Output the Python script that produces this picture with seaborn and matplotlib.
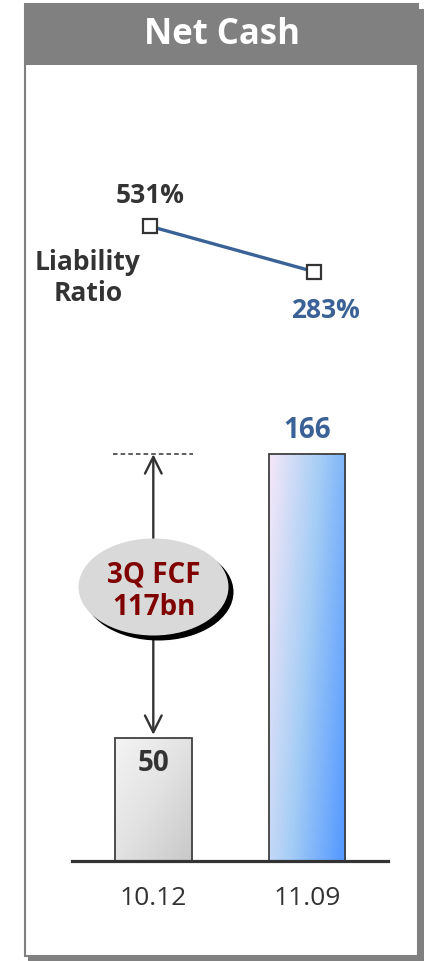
import numpy as np
import pandas as pd
import matplotlib
matplotlib.use("Agg")
import matplotlib.pyplot as plt
from matplotlib.patches import Rectangle, Ellipse
import seaborn as sns

# ---- data -------------------------------------------------------------
periods = ["10.12", "11.09"]
net_cash = [50, 166]            # KRW bn
liability_ratio = [531, 283]    # %
fcf_label = "3Q FCF\n117bn"

sns.set_theme(style="white")
plt.rcParams["font.family"] = ["Open Sans", "DejaVu Sans"]

W, H = 424, 962
fig = plt.figure(figsize=(W / 100, H / 100), dpi=100)
fig.patch.set_facecolor("white")


def fx(x):
    return x / W


def fy(y):
    return 1 - y / H


def frect(x0, y0, x1, y1, **kw):
    r = Rectangle((fx(x0), fy(y1)), fx(x1) - fx(x0), fy(y0) - fy(y1),
                  transform=fig.transFigure, **kw)
    fig.add_artist(r)
    return r


DARK = "#333333"
BLUE = "#3A6296"
GRAY = "#808080"

# ---- panel frame with drop shadow and header --------------------------
frect(28, 10, 424, 962, facecolor=GRAY, edgecolor="none", zorder=-20)
frect(25, 5, 418, 957, facecolor="white", edgecolor=GRAY, linewidth=1.5, zorder=-19)
frect(24, 4, 418, 66, facecolor=GRAY, edgecolor="none", zorder=-18)
fig.text(fx(222), fy(35), "Net Cash", color="white", fontsize=25,
         fontweight="bold", ha="center", va="center", zorder=10)

# ---- net cash bars ----------------------------------------------------
YTOP = 195.9
ax = fig.add_axes([fx(72), fy(862), (388 - 72) / W, (862 - 382) / H])
ax.patch.set_visible(False)
df = pd.DataFrame({"period": periods, "cash": net_cash})
sns.barplot(data=df, x="period", y="cash", ax=ax, width=0.498,
            color="white", edgecolor="#404040", linewidth=1.3,
            saturation=1, zorder=3)
ax.set_xlabel("")
ax.set_ylabel("")
ax.set_yticks([])
for s in ["left", "right", "top"]:
    ax.spines[s].set_visible(False)
ax.spines["bottom"].set_color(DARK)
ax.spines["bottom"].set_linewidth(2.3)
ax.spines["bottom"].set_zorder(6)
ax.tick_params(axis="x", length=0, pad=17, labelsize=19, labelcolor=DARK)


def gradient(c_tl, c_mid, c_br, wx, wy, n=200):
    u = np.linspace(0, 1, n)[None, :]
    v = np.linspace(0, 1, n)[:, None]
    t = np.clip(wx * u + wy * v, 0, 1)
    stops = np.array([c_tl, c_mid, c_br], dtype=float) / 255
    img = np.empty((n, n, 3))
    for k in range(3):
        img[..., k] = np.interp(t, [0, 0.5, 1], stops[:, k])
    return img


grads = [
    gradient((244, 244, 244), (226, 226, 226), (200, 200, 200), 0.5, 0.5),
    gradient((246, 232, 248), (165, 205, 245), (88, 155, 255), 0.75, 0.3),
]
for bar, img in zip(ax.patches, grads):
    x0, y0 = bar.get_x(), bar.get_y()
    bw, bh = bar.get_width(), bar.get_height()
    im = ax.imshow(img, extent=(x0, x0 + bw, y0, y0 + bh), aspect="auto",
                   origin="upper", zorder=2)
    im.set_clip_path(bar)
    bar.set_facecolor("none")
ax.set_xlim(-0.529, 1.527)
ax.set_ylim(0, YTOP)

# value labels
ax.annotate(f"{net_cash[0]}", (0, net_cash[0]), xytext=(0, -24),
            textcoords="offset pixels", ha="center", va="center",
            fontsize=20, fontweight="bold", color=DARK, zorder=7)
ax.annotate(f"{net_cash[1]}", (1, net_cash[1]), xytext=(0, 25),
            textcoords="offset pixels", ha="center", va="center",
            fontsize=20, fontweight="bold", color=BLUE, zorder=7)

# FCF bridge: dashed reference at the later level, double arrow down to earlier bar
ax.plot([-0.265, 0.258], [net_cash[1], net_cash[1]], color=DARK,
        linewidth=1.1, linestyle=(0, (3, 2)), zorder=4)
ax.annotate("", xy=(0, net_cash[1]), xytext=(0, net_cash[0] + 1.5),
            arrowprops=dict(arrowstyle="<->,head_length=1.0,head_width=0.5",
                            color=DARK, linewidth=1.7, shrinkA=0, shrinkB=0),
            zorder=4)

ecx, ecy, ew, eh = 153.5, 588, 150, 97
fig.add_artist(Ellipse((fx(ecx + 5), fy(ecy + 5)), ew / W, eh / H,
                       transform=fig.transFigure, facecolor="black",
                       edgecolor="none", zorder=8))
fig.add_artist(Ellipse((fx(ecx), fy(ecy)), ew / W, eh / H,
                       transform=fig.transFigure, facecolor="#D9D9D9",
                       edgecolor="none", zorder=9))
fig.text(fx(153.5), fy(591), fcf_label, color="#800000", fontsize=20,
         fontweight="bold", ha="center", va="center", linespacing=1.15,
         zorder=10)

# ---- liability ratio line ---------------------------------------------
lax = fig.add_axes([fx(72), fy(340), (388 - 72) / W, (340 - 150) / H])
lax.patch.set_visible(False)
ldf = pd.DataFrame({"pos": np.arange(len(periods)), "ratio": liability_ratio})
sns.lineplot(data=ldf, x="pos", y="ratio", ax=lax, color=BLUE,
             linewidth=2.4, marker="s", markersize=10.5,
             markerfacecolor="white", markeredgecolor=DARK,
             markeredgewidth=1.6)
lax.set_xlim(-0.475, 1.449)
lax.set_ylim(-84.5, 953.2)
lax.axis("off")
lax.annotate(f"{liability_ratio[0]}%", (0, liability_ratio[0]), xytext=(0, 32),
             textcoords="offset pixels", ha="center", va="center",
             fontsize=19, fontweight="bold", color=DARK)
lax.annotate(f"{liability_ratio[1]}%", (1, liability_ratio[1]), xytext=(11, -38),
             textcoords="offset pixels", ha="center", va="center",
             fontsize=19, fontweight="bold", color=BLUE)
fig.text(fx(88), fy(278), "Liability\nRatio", color=DARK, fontsize=19,
         fontweight="bold", ha="center", va="center", linespacing=1.2)

fig.savefig("out.png", dpi=100)
